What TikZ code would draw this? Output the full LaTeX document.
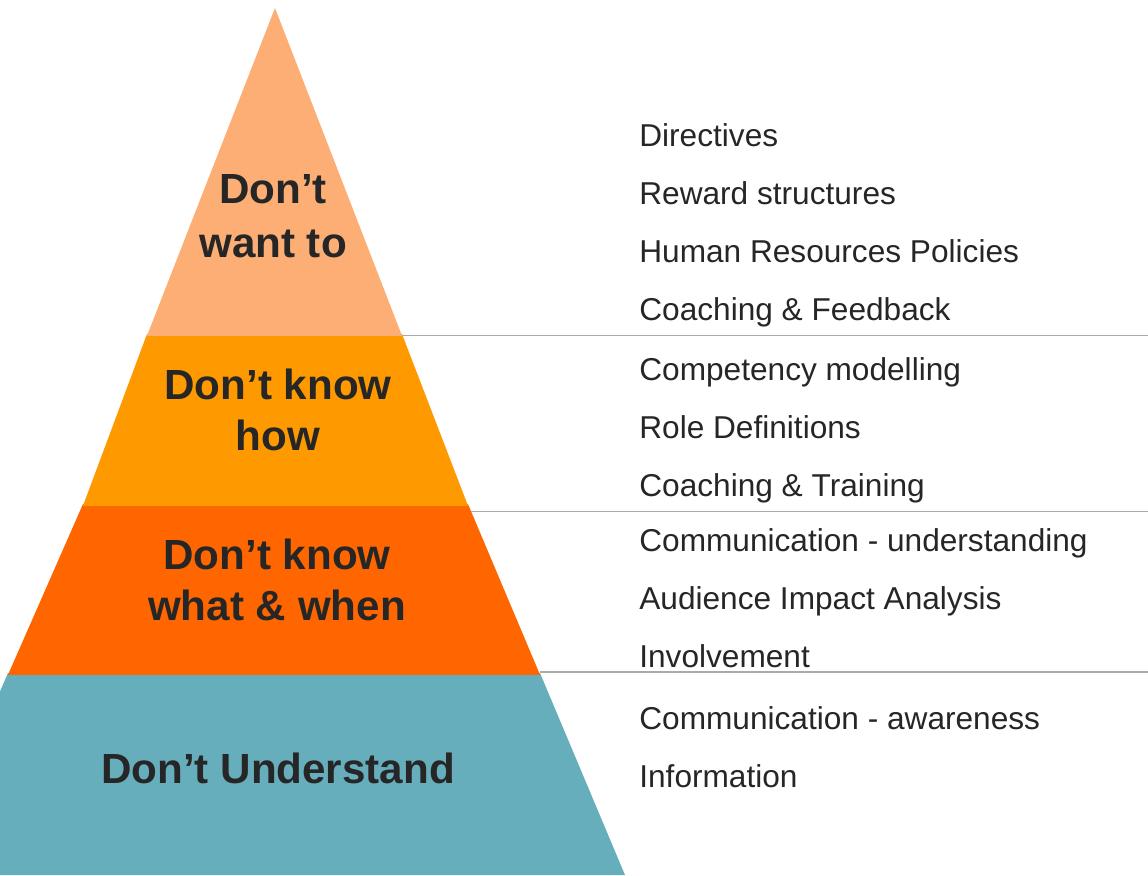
\documentclass[tikz,border=0pt]{standalone}
\usepackage{fontspec}
\setmainfont{Liberation Sans}
\usetikzlibrary{positioning}
\definecolor{pyrpeach}{RGB}{252,174,116}
\definecolor{pyramber}{RGB}{255,153,0}
\definecolor{pyrorange}{RGB}{255,102,0}
\definecolor{pyrteal}{RGB}{103,174,189}
\definecolor{txtgray}{RGB}{38,38,38}
\definecolor{rulegray}{RGB}{170,170,170}

\tikzset{
  levellabel/.style={font=\fontsize{24}{28.8}\selectfont\bfseries, text=txtgray,
                     align=center, inner sep=0pt},
  remedy/.style={font=\fontsize{18}{21.6}\selectfont, text=txtgray, inner sep=0pt,
                 text height=13pt, text depth=4pt},
  sepline/.style={rulegray, line width=1.1pt}
}

\begin{document}
\begin{tikzpicture}[x=0.02cm, y=-0.02cm]
\useasboundingbox (0,0) rectangle (1148,875);
\clip (0,0) rectangle (1148,875);
% Tier corners
\coordinate (apex) at (275,8);
\coordinate (t1l) at (147,334);
\coordinate (t1r) at (402,334);
\coordinate (t2l) at (83,504);
\coordinate (t2r) at (468,504);
\coordinate (t3l) at (8,673);
\coordinate (t3r) at (540,673);
\coordinate (t4l) at (-80,875);
\coordinate (t4r) at (625,875);
\coordinate (rim) at (1148,0);

% Pyramid, bottom tier first
\fill[pyrteal] (t3l) -- (t3r) -- (t4r) -- (t4l) -- cycle;
\fill[pyrorange] (t2l) -- (t2r) -- ([yshift=-1]t3r) -- ([yshift=-1]t3l) -- cycle;
\fill[pyramber] (t1l) -- (t1r) -- ([yshift=-1]t2r) -- ([yshift=-1]t2l) -- cycle;
\fill[pyrpeach] (apex) -- ([yshift=-1]t1r) -- ([yshift=-1]t1l) -- cycle;

% Separators out to the right edge
\coordinate (s1) at (402,335.5);
\coordinate (s2) at (471,511.5);
\coordinate (s3) at (540,672);
\draw[sepline] (s1) -- (s1 -| rim);
\draw[sepline] (s2) -- (s2 -| rim);
\draw[sepline] (s3) -- (s3 -| rim);

% Tier labels
\node[levellabel, font=\fontsize{24}{30.7}\selectfont\bfseries] (wantto) at (273,216)
      {Don’t\\want to};
\node[levellabel] (knowhow) at (278,410) {Don’t know\\how};
\node[levellabel] (whatwhen) at (277,580) {Don’t know\\what \& when};
\node[levellabel] (understand) at (278,768) {Don’t Understand};

% Remedies, top tier
\node[remedy, anchor=base west] (dir) at (639,146) {Directives};
\node[remedy, below=5.5mm of dir.south west, anchor=north west] (reward) {Reward structures};
\node[remedy, below=5.5mm of reward.south west, anchor=north west] (hrpol) {Human Resources Policies};
\node[remedy, below=5.5mm of hrpol.south west, anchor=north west] (coachfb) {Coaching \& Feedback};

% Remedies, second tier
\node[remedy, anchor=base west] (compmod) at (639,380) {Competency modelling};
\node[remedy, below=5.5mm of compmod.south west, anchor=north west] (roledef) {Role Definitions};
\node[remedy, below=5.5mm of roledef.south west, anchor=north west] (coachtr) {Coaching \& Training};

% Remedies, third tier
\node[remedy, anchor=base west] (commund) at (639,551) {Communication - understanding};
\node[remedy, below=5.5mm of commund.south west, anchor=north west] (audimp) {Audience Impact Analysis};
\node[remedy, below=5.5mm of audimp.south west, anchor=north west] (involve) {Involvement};

% Remedies, bottom tier
\node[remedy, anchor=base west] (commaw) at (639,729) {Communication - awareness};
\node[remedy, below=5.5mm of commaw.south west, anchor=north west] (info) {Information};
\end{tikzpicture}
\end{document}
